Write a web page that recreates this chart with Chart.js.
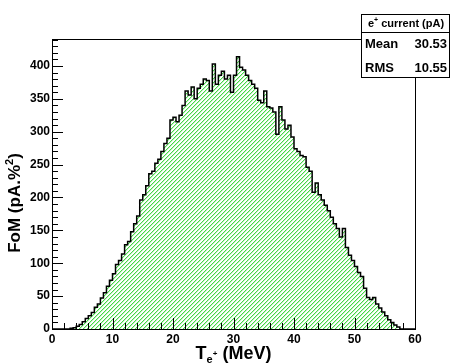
<!DOCTYPE html>
<html>
<head>
<meta charset="utf-8">
<script src="https://cdn.jsdelivr.net/npm/chart.js@4.4.0/dist/chart.umd.min.js"></script>
<style>
  html, body { margin: 0; padding: 0; background: #fff; }
</style>
</head>
<body>
<div style="width:450px;height:364px">
  <canvas id="myChart" width="450" height="364"></canvas>
</div>
<script>
// histogram: 120 bins of 0.5 MeV from 0 to 60 MeV
const xMin = 0;
const xMax = 60;
const binWidth = 0.5;
const yMax = 441;

const fomCounts = [
  0, 0, 0, 0, 0, 0, 0, 1, 2, 4,
  7, 11, 16, 20, 25, 33, 38, 47, 55, 65,
  74, 84, 98, 104, 114, 128, 133, 148, 160, 172,
  196, 204, 218, 236, 240, 252, 258, 270, 282, 290,
  318, 322, 315, 325, 340, 362, 356, 368, 350, 366,
  372, 380, 378, 362, 403, 372, 386, 392, 380, 386,
  360, 386, 414, 398, 394, 386, 378, 372, 366, 348,
  344, 362, 338, 336, 330, 296, 338, 318, 304, 310,
  292, 274, 270, 264, 262, 246, 240, 208, 222, 204,
  196, 188, 180, 170, 160, 153, 140, 153, 124, 112,
  104, 95, 86, 80, 62, 48, 45, 48, 38, 32,
  26, 20, 14, 10, 6, 3, 0, 0, 0, 0
];

const xTicks = [0, 10, 20, 30, 40, 50, 60];
const yTicks = [0, 50, 100, 150, 200, 250, 300, 350, 400];

const statsTitle = 'current (pA)';
const statsRows = [['Mean', '30.53'], ['RMS', '10.55']];

// step points at the low edge of each bin, closing at xMax
const points = fomCounts.map((v, i) => ({ x: xMin + i * binWidth, y: v }));
points.push({ x: xMax, y: 0 });

// ROOT-like "/" hatch, drawn pixel by pixel
function hatch() {
  const c = document.createElement('canvas');
  c.width = 4; c.height = 4;
  const g = c.getContext('2d');
  g.fillStyle = '#fff';
  g.fillRect(0, 0, 4, 4);
  for (let i = 0; i < 4; i++) {
    g.fillStyle = 'rgb(70,215,70)';
    g.fillRect(i, 3 - i, 1, 1);
    g.fillStyle = 'rgb(196,242,196)';
    g.fillRect((i + 1) % 4, 3 - i, 1, 1);
  }
  return g.createPattern(c, 'repeat');
}

const FONT = '"Liberation Sans", Arial, Helvetica, sans-serif';

const rootStyle = {
  id: 'rootStyle',
  afterDatasetsDraw(chart) {
    const { ctx, chartArea: a, scales: { x, y } } = chart;
    ctx.save();
    ctx.strokeStyle = '#000';
    ctx.lineWidth = 1;
    ctx.strokeRect(a.left + 0.5, a.top + 0.5, a.right - a.left, a.bottom - a.top);
    ctx.beginPath();
    for (let v = 0; v <= yMax; v += 10) {
      const py = Math.round(y.getPixelForValue(v)) + 0.5;
      const len = v % 50 === 0 ? 11 : 6;
      ctx.moveTo(a.left, py); ctx.lineTo(a.left + len, py);
    }
    for (let v = xMin; v <= xMax; v += 2) {
      const px = Math.round(x.getPixelForValue(v)) + 0.5;
      const len = v % 10 === 0 ? 11 : 6;
      ctx.moveTo(px, a.bottom); ctx.lineTo(px, a.bottom - len);
    }
    ctx.stroke();
    ctx.restore();
  },
  afterDraw(chart) {
    const { ctx, chartArea: a } = chart;
    ctx.save();
    ctx.fillStyle = '#000';

    // y title
    ctx.save();
    ctx.translate(20, 203);
    ctx.rotate(-Math.PI / 2);
    ctx.font = 'bold 17px ' + FONT;
    ctx.textAlign = 'left';
    ctx.textBaseline = 'alphabetic';
    const t1 = 'FoM (pA.%';
    const w1 = ctx.measureText(t1).width;
    ctx.font = 'bold 11px ' + FONT;
    const w2 = ctx.measureText('2').width;
    ctx.font = 'bold 17px ' + FONT;
    const w3 = ctx.measureText(')').width;
    const sx = -(w1 + w2 + w3) / 2;
    ctx.fillText(t1, sx, 0);
    ctx.font = 'bold 11px ' + FONT;
    ctx.fillText('2', sx + w1, -7);
    ctx.font = 'bold 17px ' + FONT;
    ctx.fillText(')', sx + w1 + w2, 0);
    ctx.restore();

    // x title: T_{e^+} (MeV)
    ctx.font = 'bold 18px ' + FONT;
    const wT = ctx.measureText('T').width;
    const wR = ctx.measureText(' (MeV)').width;
    ctx.font = 'bold 11px ' + FONT;
    const wE = ctx.measureText('e').width;
    ctx.font = 'bold 8px ' + FONT;
    const wP = ctx.measureText('+').width;
    const cx = (a.left + a.right) / 2;
    const tx = cx - (wT + wE + wP + wR) / 2;
    const by = 359;
    ctx.textAlign = 'left';
    ctx.font = 'bold 18px ' + FONT;
    ctx.fillText('T', tx, by);
    ctx.font = 'bold 11px ' + FONT;
    ctx.fillText('e', tx + wT, by + 4);
    ctx.font = 'bold 8px ' + FONT;
    ctx.fillText('+', tx + wT + wE, by - 3);
    ctx.font = 'bold 18px ' + FONT;
    ctx.fillText(' (MeV)', tx + wT + wE + wP, by);

    // stats box
    const bx = 361, bt = 14, bw = 88, bh = 63, sep = 32;
    ctx.fillStyle = '#fff';
    ctx.fillRect(bx, bt, bw, bh);
    ctx.strokeStyle = '#000';
    ctx.lineWidth = 1;
    ctx.strokeRect(bx + 0.5, bt + 0.5, bw, bh);
    ctx.beginPath();
    ctx.moveTo(bx, sep + 0.5); ctx.lineTo(bx + bw, sep + 0.5);
    ctx.stroke();
    ctx.fillStyle = '#000';
    ctx.font = 'bold 11px ' + FONT;
    const we = ctx.measureText('e').width;
    ctx.font = 'bold 7px ' + FONT;
    const wp = ctx.measureText('+').width;
    ctx.font = 'bold 11px ' + FONT;
    const wt = ctx.measureText(' ' + statsTitle).width;
    const hx = bx + bw / 2 - (we + wp + wt) / 2 + 1;
    ctx.fillText('e', hx, 27);
    ctx.font = 'bold 7px ' + FONT;
    ctx.fillText('+', hx + we, 22);
    ctx.font = 'bold 11px ' + FONT;
    ctx.fillText(' ' + statsTitle, hx + we + wp, 27);
    ctx.font = 'bold 13px ' + FONT;
    statsRows.forEach((r, i) => {
      const ry = 48 + i * 24;
      ctx.textAlign = 'left';
      ctx.fillText(r[0], bx + 4, ry);
      ctx.textAlign = 'right';
      ctx.fillText(r[1], bx + bw - 2, ry);
    });
    ctx.restore();
  }
};

const ctx = document.getElementById('myChart');
new Chart(ctx, {
  type: 'line',
  data: {
    datasets: [{
      data: points,
      stepped: 'after',
      borderColor: '#000',
      borderWidth: 1.5,
      backgroundColor: hatch(),
      fill: 'origin',
      pointRadius: 0
    }]
  },
  options: {
    responsive: false,
    animation: false,
    devicePixelRatio: 1,
    layout: { padding: { left: 0, right: 35, top: 39, bottom: 0 } },
    plugins: { legend: { display: false }, tooltip: { enabled: false } },
    scales: {
      x: {
        type: 'linear',
        min: xMin,
        max: xMax,
        afterBuildTicks: s => { s.ticks = xTicks.map(v => ({ value: v })); },
        afterFit: s => { s.height = 35; },
        grid: { display: false, drawTicks: false },
        border: { display: false },
        ticks: {
          padding: 3,
          maxRotation: 0,
          color: '#000',
          font: { family: FONT, weight: 'bold', size: 12 }
        }
      },
      y: {
        type: 'linear',
        min: 0,
        max: yMax,
        afterBuildTicks: s => { s.ticks = yTicks.map(v => ({ value: v })); },
        afterFit: s => { s.width = 52; },
        grid: { display: false, drawTicks: false },
        border: { display: false },
        ticks: {
          padding: 2,
          color: '#000',
          font: { family: FONT, weight: 'bold', size: 12 }
        }
      }
    }
  },
  plugins: [rootStyle]
});
</script>
</body>
</html>
